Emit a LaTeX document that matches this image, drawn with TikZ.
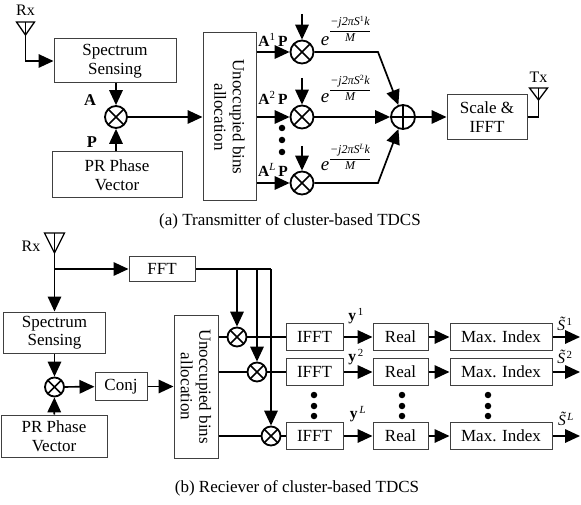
\documentclass[tikz,border=0pt]{standalone}
\usepackage{fontspec}
\setmainfont{Liberation Serif}
\usetikzlibrary{arrows.meta,calc}
\begin{document}
\begin{tikzpicture}[x=1pt,y=-1pt,
  box/.style={draw=black!75,line width=1pt,inner sep=0pt,align=center,font=\fontsize{17}{18.5}\selectfont},
  mult/.style={circle,draw,line width=1.8pt,inner sep=0pt,minimum size=20pt,
    path picture={\draw[line width=1.7pt] (path picture bounding box.south west)--(path picture bounding box.north east)
      (path picture bounding box.north west)--(path picture bounding box.south east);}},
  summ/.style={circle,draw,line width=1.8pt,inner sep=0pt,minimum size=24pt,
    path picture={\draw[line width=1.5pt] (path picture bounding box.north)--(path picture bounding box.south)
      (path picture bounding box.west)--(path picture bounding box.east);}},
  conn/.style={line width=1.7pt},
  arr/.style={conn,-{Triangle[length=15pt,width=13.5pt]}},
  lbl/.style={inner sep=0pt,font=\fontsize{15.5}{16}\selectfont},
  frac/.style={inner sep=0pt,font=\fontsize{12}{13}\selectfont},
  dotn/.style={circle,fill,inner sep=0pt,minimum size=6.5pt},
  captext/.style={inner sep=0pt,font=\fontsize{17}{18}\selectfont},
  ant/.style={line width=1.3pt,line join=miter}
]
\useasboundingbox (0,0) rectangle (581,505);

% ---------------- (a) transmitter ----------------
\node[lbl,font=\fontsize{16}{17}\selectfont] (rxal) at (25.5,10) {Rx};
\draw[ant] (16.5,22) -- (34.5,22) -- (25.5,35) -- cycle;
\coordinate (rxa) at (25.5,22);
\node[box,minimum width=122pt,minimum height=44pt] (ss1) at (115,61) {Spectrum\\Sensing};
\draw[arr] (rxa) |- (ss1.west);
\node[mult,minimum size=22pt] (m0) at (116,117) {};
\node[box,minimum width=130pt,minimum height=46pt] (pr1) at (117,175) {PR Phase\\Vector};
\draw[arr] (ss1.south -| m0) -- (m0);
\draw[arr] (pr1.north -| m0) -- (m0);
\node[lbl,font=\fontsize{16.5}{17}\selectfont] (la) at (90,100) {\textbf{A}};
\node[lbl,font=\fontsize{16.5}{17}\selectfont] (lp) at (92,142) {\textbf{P}};
\node[box,minimum width=53pt,minimum height=168pt] (ub1) at (229.5,117) {};
\node[box,draw=none,rotate=-90] (ub1t) at (ub1.center) {Unoccupied bins\\allocation};
\draw[arr] (m0) -- (ub1);

\node[mult,minimum size=23pt] (c1) at (302,52) {};
\node[mult,minimum size=23pt] (c2) at (302,117) {};
\node[mult,minimum size=23pt] (c3) at (302,183) {};
\draw[arr] (ub1.east |- c1) -- (c1);
\draw[arr] (ub1.east |- c2) -- (c2);
\draw[arr] (ub1.east |- c3) -- (c3);
\coordinate (t1) at (302,14);
\coordinate (t2) at (302,78);
\coordinate (t3) at (302,146);
\draw[arr] (t1) -- (c1);
\draw[arr] (t2) -- (c2);
\draw[arr] (t3) -- (c3);
\node[lbl] (a1) at (273,40) {\textbf{A}\textsuperscript{1}\,\textbf{P}};
\node[lbl] (a2) at (273,98) {\textbf{A}\textsuperscript{2}\,\textbf{P}};
\node[lbl] (a3) at (273,170) {\textbf{A}\textsuperscript{\itshape L}\,\textbf{P}};
\node[dotn] (da1) at (282,128) {};
\node[dotn] (da2) at (282,140) {};
\node[dotn] (da3) at (282,152) {};
\node[lbl,font=\fontsize{19}{19}\selectfont\itshape] (e1) at (325,41) {e};
\node[lbl,font=\fontsize{19}{19}\selectfont\itshape] (e2) at (325,98) {e};
\node[lbl,font=\fontsize{19}{19}\selectfont\itshape] (e3) at (325,166) {e};
\node[frac] (f1) at (350,29) {$\displaystyle\frac{\mbox{\itshape −j2πS\textsuperscript{\upshape 1}k}}{\mbox{\itshape M}}$};
\node[frac] (f2) at (350,88) {$\displaystyle\frac{\mbox{\itshape −j2πS\textsuperscript{\upshape 2}k}}{\mbox{\itshape M}}$};
\node[frac] (f3) at (350,157) {$\displaystyle\frac{\mbox{\itshape −j2πS\textsuperscript{L}k}}{\mbox{\itshape M}}$};

\node[summ] (s) at (403,117) {};
\coordinate (j1) at (378,52);
\coordinate (j3) at (378,183);
\draw[arr] (c1) -- (j1) -- (s);
\draw[arr] (c2) -- (s);
\draw[arr] (c3) -- (j3) -- (s);
\node[box,minimum width=80pt,minimum height=45pt] (sc) at (487,117) {Scale \&\\IFFT};
\draw[arr] (s) -- (sc);
\coordinate (txa) at (538.5,88);
\draw[conn] (sc.east) -| (txa);
\draw[ant] (529.5,88) -- (547.5,88) -- (538.5,100) -- cycle;
\node[lbl,font=\fontsize{16}{17}\selectfont] (txl) at (538.5,77) {Tx};

\node[captext] (capa) at (290,221) {(a) Transmitter of cluster-based TDCS};

% ---------------- (b) receiver ----------------
\node[lbl,font=\fontsize{16}{17}\selectfont] (rxbl) at (31,246) {Rx};
\draw[ant] (44.5,233) -- (64.5,233) -- (54.5,253) -- cycle;
\coordinate (rxb) at (54.5,233);
\coordinate (br) at (54.5,269);
\node[box,minimum width=66pt,minimum height=25pt] (fft) at (162,269) {FFT};
\node[box,minimum width=102pt,minimum height=41pt] (ss2) at (54.5,332.5) {Spectrum\\Sensing};
\draw[arr] (rxb) -- (ss2);
\draw[arr] (br) -- (fft);
\node[mult,minimum size=19pt] (mb) at (54.5,387) {};
\node[box,minimum width=106pt,minimum height=42pt] (pr2) at (54,436) {PR Phase\\Vector};
\draw[arr] (ss2) -- (mb);
\draw[arr] (pr2) -- (mb);
\node[box,minimum width=52pt,minimum height=28pt] (conj) at (121,386.5) {Conj};
\draw[arr] (mb) -- (conj);
\node[box,minimum width=44pt,minimum height=143pt] (ub2) at (196,386.5) {};
\node[box,draw=none,rotate=-90] (ub2t) at (ub2.center) {Unoccupied bins\\allocation};
\draw[arr] (conj) -- (ub2.west |- conj);

\coordinate (g1) at (237,269);
\coordinate (g2) at (257,269);
\coordinate (g3) at (271,269);
\draw[conn] (fft.east |- g1) -- (g3);
\node[mult,minimum size=19pt] (d1) at (237,337) {};
\node[mult,minimum size=19pt] (d2) at (257,372) {};
\node[mult,minimum size=19pt] (d3) at (271,436) {};
\draw[arr] (g1) -- (d1);
\draw[arr] (g2) -- (d2);
\draw[arr] (g3) -- (d3);

\foreach \k/\y in {1/337,2/372,3/436}{
  \node[box,minimum width=57pt,minimum height=27pt] (i\k) at (314.5,\y) {IFFT};
  \node[box,minimum width=55pt,minimum height=27pt] (r\k) at (400.5,\y) {Real};
  \node[box,minimum width=102pt,minimum height=27pt] (x\k) at (501,\y) {Max. Index};
  \coordinate (o\k) at (580,\y);
  \draw[conn] (ub2.east |- d\k) -- (d\k) -- (i\k);
  \draw[arr] (i\k) -- (r\k);
  \draw[arr] (r\k) -- (x\k);
  \draw[arr] (x\k) -- (o\k);
}
\node[lbl] (y1) at (356,316) {\textbf{y}\textsuperscript{\,1}};
\node[lbl] (y2) at (356,357) {\textbf{y}\textsuperscript{\,2}};
\node[lbl] (y3) at (358,414) {\textbf{y}\textsuperscript{\,\itshape L}};
\node[lbl] (sl1) at (565,324) {\itshape S̃\kern1.5pt\textsuperscript{\upshape 1}};
\node[lbl] (sl2) at (565,357) {\itshape S̃\kern1.5pt\textsuperscript{\upshape 2}};
\node[lbl] (sl3) at (566,419) {\itshape S̃\kern1.5pt\textsuperscript{L}};
\foreach \xx/\nm in {314/di,402/dr,488/dx}{
  \node[dotn] (\nm1) at (\xx,395) {};
  \node[dotn] (\nm2) at (\xx,406) {};
  \node[dotn] (\nm3) at (\xx,416) {};
}
\node[captext] (capb) at (297,488) {(b) Reciever of cluster-based TDCS};
\end{tikzpicture}
\end{document}
